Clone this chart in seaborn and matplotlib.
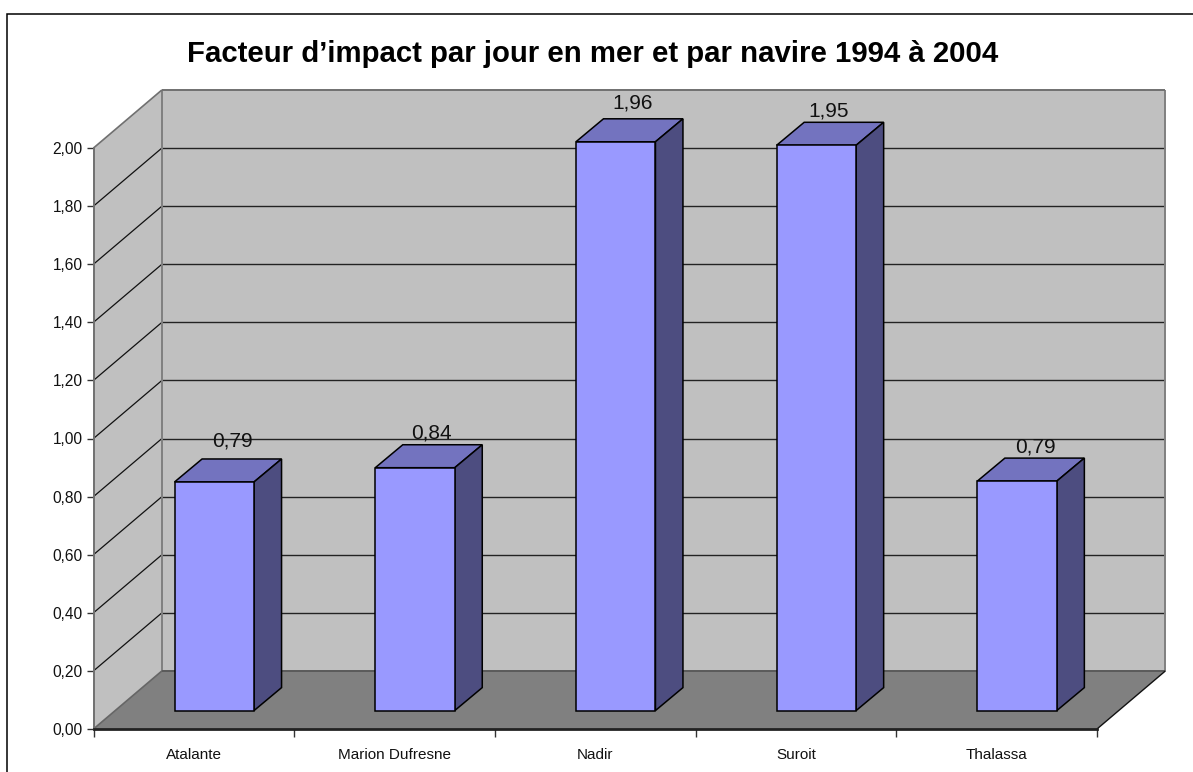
import numpy as np
import pandas as pd
import seaborn as sns
import matplotlib.pyplot as plt
from matplotlib.patches import Polygon, Rectangle

# values
navires = ["Atalante", "Marion Dufresne", "Nadir", "Suroit", "Thalassa"]
facteur = [0.787, 0.836, 1.958, 1.946, 0.790]
ticks_y = [0.0, 0.2, 0.4, 0.6, 0.8, 1.0, 1.2, 1.4, 1.6, 1.8, 2.0]
titre = "Facteur d’impact par jour en mer et par navire 1994 à 2004"

W, H = 1193, 772

# fake 3D depth, in data units (categories, value)
wall_dx, wall_dy = 0.341, 0.2
bar_off_x, bar_off_y = 0.102, 0.0635
bar_dx, bar_dy = 0.137, 0.079
bar_width = 0.396

# data label placement differs per bar, in px from the bar's front centre / top face
label_nudge_x = [18, 16.7, 17, 12.5, 18]
label_nudge_y = [12.5, 6, 10.5, 5.5, 6]

sns.set_theme(style="white")
plt.rcParams["font.family"] = ["Liberation Sans", "DejaVu Sans"]

fig = plt.figure(figsize=(W / 100, H / 100), dpi=100, facecolor="white")
ax = fig.add_axes([93.5 / W, (H - 729) / H, 1003.5 / W, 581 / H])
ax.patch.set_visible(False)
px_x = (len(navires)) / 1003.5
px_y = 2.0 / 581

df = pd.DataFrame({"navire": navires, "facteur": facteur})
sns.barplot(data=df, x="navire", y="facteur", color="#9999FF", width=bar_width,
            saturation=1, edgecolor="black", linewidth=1.1, ax=ax, zorder=5)

n = len(navires)
x0, x1 = -0.5, n - 0.5
ax.set_xlim(x0, x1)
ax.set_ylim(0, 2)


def poly(pts, face, edge="none", lw=0, z=1):
    ax.add_patch(Polygon(pts, closed=True, facecolor=face, edgecolor=edge,
                         linewidth=lw, zorder=z, clip_on=False, joinstyle="miter"))


def line(xs, ys, color, lw=1.0, z=2):
    ax.plot(xs, ys, color=color, lw=lw, zorder=z, clip_on=False, solid_capstyle="butt")


# walls and floor
top = ticks_y[-1]
poly([(x0, 0), (x0 + wall_dx, wall_dy), (x0 + wall_dx, top + wall_dy), (x0, top)], "#C0C0C0")
poly([(x0 + wall_dx, wall_dy), (x1 + wall_dx, wall_dy), (x1 + wall_dx, top + wall_dy),
      (x0 + wall_dx, top + wall_dy)], "#C0C0C0")
poly([(x0, 0), (x1, 0), (x1 + wall_dx, wall_dy), (x0 + wall_dx, wall_dy)], "#808080")

# grid, on the left wall and the back wall
for v in ticks_y[1:-1]:
    line([x0, x0 + wall_dx], [v, v + wall_dy], "#111111", 0.9)
    line([x0 + wall_dx, x1 + wall_dx], [v + wall_dy, v + wall_dy], "#222222", 1.0)

# wall edges
line([x0 + wall_dx, x0 + wall_dx], [wall_dy, top + wall_dy], "#808080", 1.4)
line([x1 + wall_dx, x1 + wall_dx], [wall_dy, top + wall_dy], "#808080", 1.4)
line([x0 + wall_dx, x1 + wall_dx], [top + wall_dy, top + wall_dy], "#707070", 1.4)
line([x0, x0 + wall_dx], [top, top + wall_dy], "#707070", 1.2)
line([x0, x0 + wall_dx], [0, wall_dy], "#666666", 1.2)
line([x0 + wall_dx, x1 + wall_dx], [wall_dy, wall_dy], "#5A5A5A", 1.4)
line([x1, x1 + wall_dx], [0, wall_dy], "#111111", 1.0)

# bars: move to their depth, then add top and side faces
for i, (bar, val) in enumerate(zip(ax.patches[:n], facteur)):
    bar.set_x(bar.get_x() + bar_off_x)
    bar.set_y(bar_off_y)
    bar.set_clip_on(False)
    xa = bar.get_x()
    xb = xa + bar.get_width()
    yb = bar_off_y
    yt = bar_off_y + val
    poly([(xa, yt), (xb, yt), (xb + bar_dx, yt + bar_dy), (xa + bar_dx, yt + bar_dy)],
         "#7373BF", "black", 1.1, 4)
    poly([(xb, yb), (xb + bar_dx, yb + bar_dy), (xb + bar_dx, yt + bar_dy), (xb, yt)],
         "#4D4D80", "black", 1.1, 4)
    ax.text(xa + bar.get_width() / 2 + label_nudge_x[i] * px_x,
            yt + bar_dy + label_nudge_y[i] * px_y,
            f"{val:.2f}".replace(".", ","), ha="center", va="baseline",
            fontsize=15, color="#111111", zorder=6)

# axes
sns.despine(ax=ax, top=True, right=True)
ax.spines["left"].set_color("#707070")
ax.spines["left"].set_linewidth(1.4)
ax.spines["bottom"].set_color("#222222")
ax.spines["bottom"].set_linewidth(2.0)
ax.set_xlabel("")
ax.set_ylabel("")
ax.set_yticks(ticks_y, labels=[f"{v:.2f}".replace(".", ",") for v in ticks_y])
ax.tick_params(axis="y", length=5, width=1, color="#333333", labelsize=11.2, pad=3,
               labelcolor="#111111", left=True)
ax.set_xticks(np.arange(x0, x1 + 1), labels=[""] * (n + 1))
ax.set_xticks(np.arange(n), labels=navires, minor=True)
ax.tick_params(axis="x", which="major", length=6, width=1, color="#333333", bottom=True)
ax.tick_params(axis="x", which="minor", length=0, labelsize=11, pad=14, labelcolor="#111111")

fig.text(592.5 / W, 1 - 53.5 / H, titre, ha="center", va="center", fontsize=21.2,
         fontweight="bold", color="black")

# chart frame, cut by the image on the right and bottom
fig.add_artist(Rectangle((7.5 / W, -0.05), 1.1, 1 - 13.5 / H + 0.05, fill=False, edgecolor="black",
                         linewidth=1.1, transform=fig.transFigure))

fig.savefig("out.png", dpi=100)
